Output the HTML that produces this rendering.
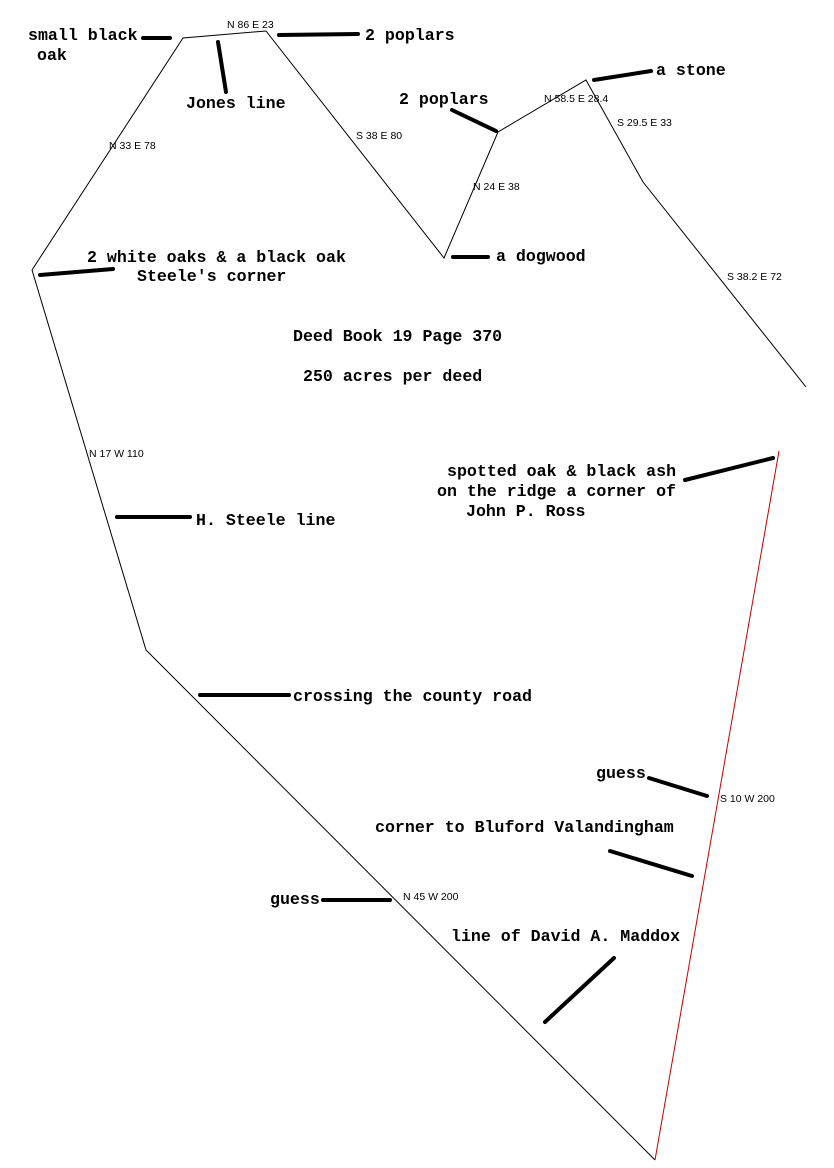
<!DOCTYPE html>
<html><head><style>
html,body{margin:0;padding:0;background:#fff;}
svg{display:block}
.b{font-family:"Liberation Mono",monospace;font-weight:bold;font-size:16.6px;fill:#000}
.s{font-family:"Liberation Sans",sans-serif;font-size:10.5px;fill:#000}
.t{stroke:#000;stroke-width:4;stroke-linecap:round}
</style></head><body>
<svg width="834" height="1168" viewBox="0 0 834 1168" xmlns="http://www.w3.org/2000/svg">
<polyline points="32,270 183,38 266,31 444,258 498,132 586,80 643,182 806,387" fill="none" stroke="#000" stroke-width="1"/>
<polyline points="655,1160 146,650 32,270" fill="none" stroke="#000" stroke-width="1"/>
<line x1="779" y1="451" x2="655" y2="1160" stroke="#c00000" stroke-width="1"/>
<line class="t" x1="143" y1="38" x2="170" y2="38"/>
<line class="t" x1="218" y1="42" x2="226" y2="92"/>
<line class="t" x1="279" y1="35" x2="358" y2="34"/>
<line class="t" x1="452" y1="110" x2="496" y2="131"/>
<line class="t" x1="594" y1="80" x2="651" y2="71"/>
<line class="t" x1="453" y1="257" x2="488" y2="257"/>
<line class="t" x1="40" y1="275" x2="113" y2="269"/>
<line class="t" x1="117" y1="517" x2="190" y2="517"/>
<line class="t" x1="200" y1="695" x2="289" y2="695"/>
<line class="t" x1="685" y1="480" x2="773" y2="458"/>
<line class="t" x1="649" y1="778" x2="707" y2="796"/>
<line class="t" x1="610" y1="851" x2="692" y2="876"/>
<line class="t" x1="323" y1="900" x2="390" y2="900"/>
<line class="t" x1="545" y1="1022" x2="614" y2="958"/>
<text class="b" x="28" y="40">small black</text>
<text class="b" x="37" y="60">oak</text>
<text class="b" x="186" y="108">Jones line</text>
<text class="b" x="365" y="40">2 poplars</text>
<text class="b" x="399" y="104">2 poplars</text>
<text class="b" x="656" y="75">a stone</text>
<text class="b" x="87" y="262">2 white oaks &amp; a black oak</text>
<text class="b" x="137" y="281">Steele's corner</text>
<text class="b" x="496" y="261">a dogwood</text>
<text class="b" x="293" y="341">Deed Book 19 Page 370</text>
<text class="b" x="303" y="381">250 acres per deed</text>
<text class="b" x="447" y="476">spotted oak &amp; black ash</text>
<text class="b" x="437" y="496">on the ridge a corner of</text>
<text class="b" x="466" y="516">John P. Ross</text>
<text class="b" x="196" y="525">H. Steele line</text>
<text class="b" x="293" y="701">crossing the county road</text>
<text class="b" x="596" y="778">guess</text>
<text class="b" x="375" y="832">corner to Bluford Valandingham</text>
<text class="b" x="270" y="904">guess</text>
<text class="b" x="451" y="941">line of David A. Maddox</text>
<text class="s" x="227" y="28">N 86 E 23</text>
<text class="s" x="109" y="149">N 33 E 78</text>
<text class="s" x="356" y="139">S 38 E 80</text>
<text class="s" x="544" y="102">N 58.5 E 28.4</text>
<text class="s" x="617" y="126">S 29.5 E 33</text>
<text class="s" x="473" y="190">N 24 E 38</text>
<text class="s" x="727" y="280">S 38.2 E 72</text>
<text class="s" x="89" y="457">N 17 W 110</text>
<text class="s" x="720" y="802">S 10 W 200</text>
<text class="s" x="403" y="900">N 45 W 200</text>
</svg>
</body></html>
